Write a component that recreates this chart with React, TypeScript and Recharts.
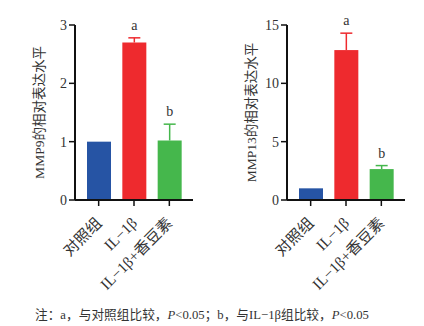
import { Bar, BarChart, Cell, XAxis, YAxis, Label } from "recharts";

const groups = ["对照组", "IL−1β", "IL−1β+香豆素"];
const colors = ["#2654A4", "#EE2A2E", "#45B74C"];
const mmp9 = [1, 2.7, 1.02];
const mmp9Err = [0, 0.08, 0.28];
const mmp13 = [1, 12.85, 2.65];
const mmp13Err = [0, 1.45, 0.3];
const sig = ["", "a", "b"];

const font = "'Liberation Serif', 'Noto Sans CJK SC', serif";

const makeRows = (vals: number[], errs: number[]) =>
	groups.map((g, i) => ({ name: g, value: vals[i], err: errs[i], sig: sig[i], color: colors[i] }));

// bar + upward-only error bar in the bar colour
const BarShape = (props: any) => {
	const { x, y, width, height, payload } = props;
	const perUnit = height / payload.value;
	const top = y - payload.err * perUnit;
	const cx = x + width / 2;
	return (
		<g>
			<rect x={x} y={y} width={width} height={height} fill={payload.color} />
			{payload.err > 0 && (
				<g stroke={payload.color} strokeWidth={1.5}>
					<line x1={cx} x2={cx} y1={y} y2={top} />
					<line x1={cx - 6} x2={cx + 6} y1={top} y2={top} />
				</g>
			)}
			{payload.sig && (
				<text x={cx} y={top - 8} textAnchor="middle" fontSize={14} fontFamily={font} fill="#333">
					{payload.sig}
				</text>
			)}
		</g>
	);
};

const XTick = ({ x, y, payload }: any) => (
	<text
		x={x + 4}
		y={y + 16}
		textAnchor="end"
		fontSize={15.5}
		fontFamily={font}
		fill="#333"
		transform={`rotate(-45, ${x + 4}, ${y + 16})`}
	>
		{payload.value}
	</text>
);

type PanelProps = { left: number; data: any[]; max: number; ticks: number[]; label: string };

const Panel = ({ left, data, max, ticks, label }: PanelProps) => (
	<div style={{ position: "absolute", left, top: 0 }}>
		<BarChart
			width={212}
			height={300}
			data={data}
			margin={{ top: 25, right: 19, left: 0, bottom: 10 }}
			style={{ overflow: "visible" }}
		>
			<XAxis
				dataKey="name"
				interval={0}
				padding={{ left: 6, right: 6 }}
				stroke="#111"
				strokeWidth={2}
				tickSize={6}
				tick={<XTick />}
				tickLine={{ stroke: "#111", strokeWidth: 1.5 }}
				height={90}
			/>
			<YAxis
				width={75}
				domain={[0, max]}
				ticks={ticks}
				stroke="#111"
				strokeWidth={2}
				tickSize={6}
				tickMargin={2}
				tickLine={{ stroke: "#111", strokeWidth: 1.5 }}
				tick={{ fontSize: 14, fontFamily: font, fill: "#333" }}
			>
				<Label value={label} angle={-90} position="center" dx={2} style={{ fontSize: 13.5, fontFamily: font, fill: "#333" }} />
			</YAxis>
			<Bar dataKey="value" barSize={24} isAnimationActive={false} shape={<BarShape />}>
				{data.map((d, i) => (
					<Cell key={i} fill={d.color} />
				))}
			</Bar>
		</BarChart>
	</div>
);

export default function App() {
	return (
		<div style={{ position: "absolute", left: 0, top: 0, width: 424, height: 326, background: "#fff" }}>
			<Panel left={0} data={makeRows(mmp9, mmp9Err)} max={3} ticks={[0, 1, 2, 3]} label="MMP9的相对表达水平" />
			<Panel left={212} data={makeRows(mmp13, mmp13Err)} max={15} ticks={[0, 5, 10, 15]} label="MMP13的相对表达水平" />
			<div
				style={{
					position: "absolute",
					left: 35,
					top: 304,
					fontSize: 12.7,
					fontFamily: font,
					color: "#333",
					whiteSpace: "nowrap",
				}}
			>
				注：a，与对照组比较，<i>P</i>&lt;0.05；b，与IL−1β组比较，<i>P</i>&lt;0.05
			</div>
		</div>
	);
}
